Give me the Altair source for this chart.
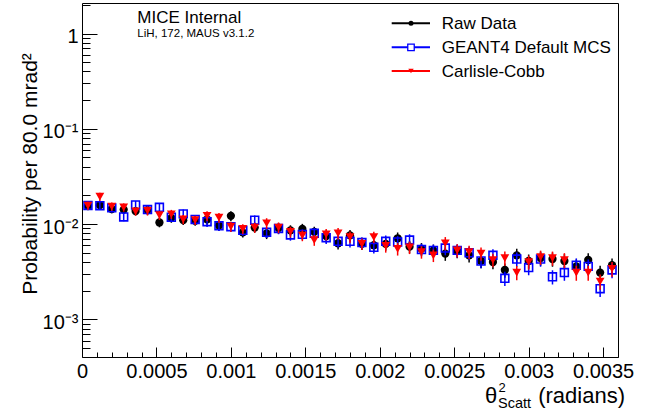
import altair as alt
import pandas as pd

FONT = "Liberation Sans"

# ---- data ----
bin_width = 0.00008
n_bins = 45
series_names = ["Raw Data", "GEANT4 Default MCS", "Carlisle-Cobb"]

raw_data = [0.0155, 0.0158, 0.0144, 0.0142, 0.0137, 0.0140, 0.0104, 0.0116, 0.0110, 0.0108,
            0.0112, 0.0097, 0.0122, 0.0082, 0.0092, 0.0080, 0.0091, 0.0086, 0.0089, 0.0083,
            0.0075, 0.0063, 0.0076, 0.0062, 0.0060, 0.0062, 0.0071, 0.0058, 0.0055, 0.0053,
            0.0049, 0.0052, 0.0047, 0.0041, 0.0040, 0.0033, 0.0047, 0.0041, 0.0044, 0.0043,
            0.0041, 0.0036, 0.0042, 0.0031, 0.0037]
geant4 = [0.0157, 0.0156, 0.0148, 0.0119, 0.0159, 0.0142, 0.0150, 0.0118, 0.0128, 0.0112,
          0.0106, 0.0096, 0.0094, 0.0086, 0.0110, 0.0082, 0.0090, 0.0077, 0.0078, 0.0080,
          0.0072, 0.0066, 0.0066, 0.0064, 0.0057, 0.0066, 0.0065, 0.0068, 0.0054, 0.0053,
          0.0056, 0.0053, 0.0050, 0.0041, 0.0047, 0.0027, 0.0043, 0.0035, 0.0043, 0.0028,
          0.0031, 0.0037, 0.0036, 0.0021, 0.0033]
carlisle = [0.0156, 0.0194, 0.0153, 0.0150, 0.0136, 0.0138, 0.0124, 0.0127, 0.0112, 0.0110,
            0.0122, 0.0117, 0.0094, 0.0089, 0.0092, 0.0102, 0.0092, 0.0083, 0.0076, 0.0068,
            0.0078, 0.0080, 0.0073, 0.0062, 0.0073, 0.0059, 0.0055, 0.0057, 0.0051, 0.0047,
            0.0063, 0.0053, 0.0051, 0.0049, 0.0042, 0.0044, 0.0031, 0.0040, 0.0045, 0.0044,
            0.0042, 0.0031, 0.0031, 0.0025, 0.0034]
rel_err = [0.10, 0.10, 0.10, 0.10, 0.10, 0.11, 0.11, 0.11, 0.11, 0.11,
           0.12, 0.12, 0.12, 0.12, 0.12, 0.13, 0.13, 0.13, 0.13, 0.13,
           0.14, 0.14, 0.14, 0.14, 0.14, 0.15, 0.15, 0.15, 0.15, 0.15,
           0.16, 0.16, 0.16, 0.16, 0.16, 0.17, 0.17, 0.17, 0.17, 0.17,
           0.18, 0.18, 0.18, 0.18, 0.18]

x_major = [0, 0.0005, 0.001, 0.0015, 0.002, 0.0025, 0.003, 0.0035]
x_minor = [round(i * 0.0001, 4) for i in range(37) if i % 5 != 0]
y_major = [0.001, 0.01, 0.1, 1]
y_minor = [m * 10.0 ** k for k in range(-4, 1) for m in range(2, 10)
           if 4.03e-4 <= m * 10.0 ** k <= 2.09]

x_centers = [(i + 0.5) * bin_width for i in range(n_bins)]

rows = []
for name, vals in zip(series_names, [raw_data, geant4, carlisle]):
    for xc, v, e in zip(x_centers, vals, rel_err):
        rows.append({"x": xc, "y": v, "lo": v * (1 - e), "hi": v * (1 + e), "series": name})
df = pd.DataFrame(rows)

xs = alt.Scale(domain=[0, 0.0036], nice=False, zero=False)
ys = alt.Scale(type="log", domain=[4.03e-4, 2.09], nice=False)

colors = {"Raw Data": "#000000", "GEANT4 Default MCS": "#0000ff", "Carlisle-Cobb": "#ff0000"}

layers = []
for name in series_names:
    sub = df[df.series == name]
    c = colors[name]
    err = alt.Chart(sub).mark_rule(color=c, strokeWidth=1.5).encode(
        x=alt.X("x:Q", scale=xs, axis=None),
        y=alt.Y("lo:Q", scale=ys, axis=None),
        y2="hi:Q",
    )
    if name == "Raw Data":
        pt = alt.Chart(sub).mark_point(shape="circle", filled=True, size=68, color=c, opacity=1)
    elif name == "GEANT4 Default MCS":
        pt = alt.Chart(sub).mark_point(shape="square", filled=False, size=62, color=c,
                                       strokeWidth=1.6, opacity=1)
    else:
        pt = alt.Chart(sub).mark_point(shape="triangle-down", filled=True, size=78, color=c, opacity=1)
    pt = pt.encode(x=alt.X("x:Q", scale=xs, axis=None), y=alt.Y("y:Q", scale=ys, axis=None))
    layers += [err, pt]

y_label_expr = ("datum.value > 0.5 ? '1\u2002' : datum.value > 0.05 ? '10\u207b\u00b9' : "
                "datum.value > 0.005 ? '10\u207b\u00b2' : '10\u207b\u00b3'")

# axis with labels only
label_axes = alt.Chart(df).mark_point(opacity=0).encode(
    x=alt.X("x:Q", scale=xs, axis=alt.Axis(values=x_major, format=".4~f", tickSize=0, domain=False,
                                           grid=False, labelFont=FONT, labelFontSize=20,
                                           labelColor="black", labelPadding=4, labelFlush=False,
                                           orient="bottom", title=None)),
    y=alt.Y("y:Q", scale=ys, axis=alt.Axis(values=y_major, labelExpr=y_label_expr, tickSize=0,
                                           domain=False, grid=False, labelFont=FONT,
                                           labelFontSize=20, labelColor="black", labelPadding=4,
                                           labelOffset=3, labelFlush=False, orient="left",
                                           title=None)),
)


def tick_layer(xv, xlen, yv, ylen):
    return alt.Chart(df).mark_point(opacity=0).encode(
        x=alt.X("x:Q", scale=xs, axis=alt.Axis(values=xv, tickSize=xlen, offset=-xlen, labels=False,
                                               domain=False, grid=False, tickColor="black",
                                               tickWidth=1, orient="bottom", title=None)),
        y=alt.Y("y:Q", scale=ys, axis=alt.Axis(values=yv, tickSize=ylen, offset=-ylen, labels=False,
                                               domain=False, grid=False, tickColor="black",
                                               tickWidth=1, orient="left", title=None)),
    )


major_ticks = tick_layer(x_major, 10, y_major, 15)
minor_ticks = tick_layer(x_minor, 5, y_minor, 8)

one = pd.DataFrame({"a": [0]})


def txt(s, x, y, size, align="left", angle=0, baseline="alphabetic"):
    return alt.Chart(one).mark_text(text=s, font=FONT, fontSize=size, align=align, angle=angle,
                                    baseline=baseline, color="black").encode(
        x=alt.value(x), y=alt.value(y))


texts = [
    txt("MICE Internal", 55.3, 20.3, 17),
    txt("LiH, 172, MAUS v3.1.2", 55.3, 34.3, 11.5),
    txt("Probability per 80.0 mrad\u00b2", -45.5, 171, 21, align="center", angle=270),
    txt("(radians)", 543, 400, 22, align="right"),
    txt("\u03b8", 403, 400, 22),
    txt("2", 416.5, 389, 13),
    txt("Scatt", 416, 404.7, 14.5),
]

# legend (decoration)
leg_y = [20.3, 44.3, 68.0]
legend = []
for name, ly in zip(series_names, leg_y):
    c = colors[name]
    legend.append(alt.Chart(one).mark_rule(color=c, strokeWidth=2).encode(
        x=alt.value(309.7), x2=alt.value(348), y=alt.value(ly)))
    if name == "Raw Data":
        m = alt.Chart(one).mark_point(shape="circle", filled=True, size=25, color=c, opacity=1)
    elif name == "GEANT4 Default MCS":
        m = alt.Chart(one).mark_point(shape="square", filled=True, size=42, fill="white",
                                      stroke=c, strokeWidth=1.3, opacity=1)
    else:
        m = alt.Chart(one).mark_point(shape="triangle-down", filled=True, size=30, color=c, opacity=1)
    legend.append(m.encode(x=alt.value(329), y=alt.value(ly)))
    legend.append(txt(name, 359.7, ly + 5.6, 17))

chart = alt.layer(label_axes, major_ticks, minor_ticks, *layers, *texts, *legend).resolve_axis(
    x="independent", y="independent"
).properties(
    width=536, height=354,
    padding={"left": 82, "top": 3, "right": 27, "bottom": 53},
    autosize=alt.AutoSizeParams(type="none"),
    background="white",
).configure_view(stroke="black", strokeWidth=1)

chart.save("out.html", embed_options={"renderer": "svg", "actions": False})
